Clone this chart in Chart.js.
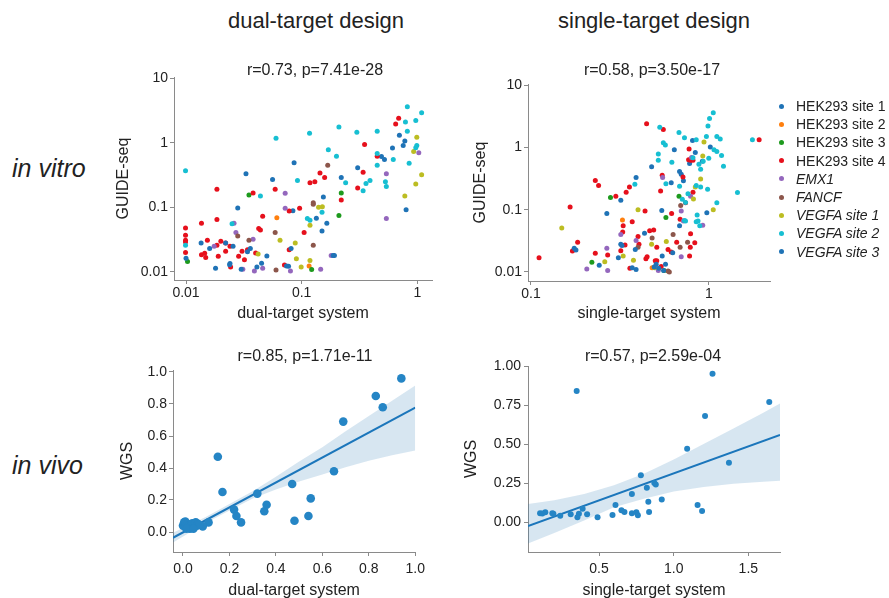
<!DOCTYPE html>
<html>
<head>
<meta charset="utf-8">
<script src="https://cdn.jsdelivr.net/npm/chart.js@4.4.1/dist/chart.umd.min.js"></script>
<style>
  html, body { margin: 0; padding: 0; background: #fff; }
  body { width: 889px; height: 598px; position: relative; overflow: hidden;
         font-family: 'Liberation Sans', Arial, sans-serif; color: #222; }
  canvas { position: absolute; }
  .txt { position: absolute; white-space: nowrap; line-height: 1; transform: translate(-50%, -50%); }
  .row { position: absolute; white-space: nowrap; line-height: 1; font-style: italic; font-size: 25px; transform: translateY(-50%); }
  .head { font-size: 22px; }
  .sub { font-size: 16px; }
  #legend { position: absolute; left: 776px; top: 97px; font-size: 14px; }
  #legend div { height: 18.2px; line-height: 18.2px; position: relative; padding-left: 20px; white-space: nowrap; }
  #legend span.dot { position: absolute; left: 3px; top: 6.6px; width: 5px; height: 5px; border-radius: 50%; }
</style>
</head>
<body>

<canvas id="vitroDual" width="330" height="263" style="left:114px; top:60px;"></canvas>
<canvas id="vitroSingle" width="309" height="263" style="left:471px; top:60px;"></canvas>
<canvas id="vivoDual" width="312" height="255" style="left:118px; top:345px;"></canvas>
<canvas id="vivoSingle" width="328" height="255" style="left:462px; top:345px;"></canvas>

<div class="txt head" style="left:316px; top:21px;">dual-target design</div>
<div class="txt head" style="left:654px; top:21px;">single-target design</div>
<div class="row" style="left:12px; top:168px;">in vitro</div>
<div class="row" style="left:12px; top:465px;">in vivo</div>
<div class="txt sub" style="left:315px; top:70px;">r=0.73, p=7.41e-28</div>
<div class="txt sub" style="left:652px; top:70px;">r=0.58, p=3.50e-17</div>
<div class="txt sub" style="left:305px; top:356px;">r=0.85, p=1.71e-11</div>
<div class="txt sub" style="left:653px; top:356px;">r=0.57, p=2.59e-04</div>
<div id="legend"></div>

<script>
// categories (legend)
const categories = ['HEK293 site 1', 'HEK293 site 2', 'HEK293 site 3', 'HEK293 site 4', 'EMX1', 'FANCF', 'VEGFA site 1', 'VEGFA site 2', 'VEGFA site 3'];
const italicCats = [false, false, false, false, true, true, true, true, true];
const catColors = ['#1f73b6', '#ff7f0e', '#1d9a1d', '#e6101c', '#9467bd', '#8c564b', '#bcbd22', '#17bfd2', '#1f73b6'];

// in vitro, dual-target system vs GUIDE-seq  [x, y]
const dualHek1 = [[0.70,1.3],[0.78,1.06],[0.755,0.91],[0.61,0.83],[0.49,0.61],[0.52,0.55],[0.305,0.41],[0.22,0.29],[0.086,0.49],[0.033,0.33],[0.056,0.27],[0.154,0.145],[0.028,0.098],[0.084,0.089],[0.134,0.068],[0.165,0.057],[0.15,0.043],[0.80,0.092]];
const dualHek2 = [[0.061,0.069],[0.116,0.0124]];
const dualHek3 = [[0.035,0.155],[0.22,0.167],[0.21,0.075],[0.0103,0.0146],[0.122,0.0109]];
const dualHek4 = [[0.69,2.4],[0.65,1.95],[0.35,0.94],[0.45,0.62],[0.34,0.35],[0.144,0.34],[0.158,0.29],[0.13,0.25],[0.118,0.24],[0.0185,0.19],[0.038,0.167],[0.059,0.19],[0.22,0.13],[0.096,0.097],[0.078,0.088],[0.046,0.073],[0.0099,0.048],[0.0136,0.057],[0.0185,0.065],[0.0099,0.037],[0.0099,0.031],[0.0099,0.029],[0.0099,0.020],[0.0153,0.031],[0.020,0.030],[0.022,0.028],[0.024,0.025],[0.0185,0.026],[0.0136,0.0185],[0.0145,0.0195],[0.0148,0.0167],[0.019,0.0175],[0.022,0.021],[0.0285,0.0175],[0.0305,0.021],[0.034,0.022],[0.032,0.0155],[0.040,0.0197],[0.0425,0.047],[0.044,0.0445],[0.105,0.041],[0.078,0.022],[0.071,0.0128],[0.0243,0.012],[0.305,0.20]];
const dualEmx1 = [[1.03,0.70],[0.54,0.33],[0.072,0.165],[0.072,0.097],[0.54,0.067],[0.026,0.057],[0.027,0.041],[0.038,0.032],[0.0175,0.025],[0.18,0.018],[0.039,0.0104],[0.046,0.0114],[0.031,0.011],[0.08,0.0104],[0.146,0.011]];
const dualFancf = [[0.168,0.45],[0.126,0.118],[0.126,0.112],[0.028,0.036],[0.035,0.031],[0.059,0.041],[0.126,0.026],[0.06,0.0107]];
const dualVeg1 = [[0.99,1.22],[0.93,0.73],[1.09,0.32],[0.97,0.23],[0.78,0.15],[0.14,0.10],[0.151,0.102],[0.118,0.053],[0.065,0.031],[0.088,0.028],[0.042,0.019],[0.09,0.016],[0.118,0.015],[0.099,0.012]];
const dualVeg2 = [[0.82,3.6],[1.09,2.9],[0.79,2.1],[0.97,2.2],[0.82,1.5],[0.21,1.75],[0.30,1.45],[0.45,1.5],[0.117,1.4],[0.06,1.17],[0.17,0.78],[0.20,0.62],[0.99,0.91],[0.97,0.84],[0.45,0.68],[0.62,0.55],[0.85,0.48],[0.45,0.45],[0.0099,0.37],[0.092,0.26],[0.39,0.26],[0.36,0.235],[0.24,0.24],[0.53,0.25],[0.54,0.21],[0.34,0.18],[0.044,0.15],[0.15,0.084],[0.112,0.067],[0.118,0.063],[0.025,0.056],[0.0099,0.026]];
const dualVeg3 = [[0.0135,0.028],[0.022,0.028],[0.016,0.023],[0.0255,0.025],[0.034,0.0206],[0.036,0.023],[0.050,0.0177],[0.045,0.0136],[0.041,0.0119],[0.024,0.0135],[0.0238,0.013],[0.018,0.0114],[0.030,0.011],[0.074,0.0124],[0.081,0.023],[0.077,0.0123],[0.187,0.018],[0.192,0.018],[0.01,0.0163]];

// in vitro, single-target system vs GUIDE-seq
const singleHek1 = [[0.81,1.29],[1.02,1.01],[0.84,0.83],[0.64,0.92],[0.92,0.60],[0.78,0.55],[0.477,0.49],[0.685,0.41],[0.70,0.37],[0.72,0.29],[0.615,0.27],[0.39,0.33],[0.32,0.142],[0.267,0.087],[0.544,0.097],[0.975,0.089],[0.435,0.042]];
const singleHek2 = [[0.327,0.068],[0.48,0.0117]];
const singleHek3 = [[0.28,0.157],[0.68,0.164],[0.574,0.075],[0.22,0.0143],[0.56,0.0106]];
const singleHek4 = [[0.447,2.4],[0.555,1.94],[1.92,1.33],[0.775,0.94],[0.77,0.635],[0.79,0.62],[0.815,0.62],[0.23,0.293],[0.24,0.244],[0.358,0.232],[0.343,0.19],[0.30,0.164],[0.547,0.356],[0.716,0.335],[0.536,0.2],[0.815,0.19],[0.74,0.129],[0.438,0.095],[0.618,0.087],[0.166,0.11],[0.371,0.064],[0.33,0.055],[0.328,0.044],[0.49,0.047],[0.465,0.046],[0.40,0.037],[0.405,0.028],[0.338,0.027],[0.32,0.022],[0.27,0.0187],[0.23,0.02],[0.183,0.03],[0.171,0.0217],[0.111,0.017],[0.79,0.041],[0.834,0.0295],[0.787,0.025],[0.66,0.03],[0.59,0.023],[0.51,0.025],[0.69,0.07],[0.615,0.021],[0.50,0.0152],[0.51,0.0152],[0.443,0.0163],[0.45,0.0176],[0.36,0.0115],[0.78,0.018],[0.54,0.0122]];
const singleEmx1 = [[0.80,0.69],[0.55,0.327],[0.79,0.164],[0.70,0.095],[0.72,0.066],[0.925,0.0565],[0.32,0.040],[0.39,0.032],[0.267,0.024],[0.70,0.0176],[0.27,0.0106],[0.206,0.0112],[0.52,0.0106]];
const singleFancf = [[0.695,0.117],[0.48,0.035],[0.63,0.040],[0.76,0.03],[0.69,0.025],[0.40,0.025],[0.60,0.0100],[0.59,0.0104]];
const singleVeg1 = [[0.94,1.22],[0.925,0.73],[0.90,0.31],[0.84,0.232],[0.82,0.149],[0.40,0.10],[1.06,0.10],[0.149,0.051],[0.577,0.031],[0.477,0.028],[0.377,0.0154],[0.26,0.0146],[0.33,0.018],[0.496,0.0117]];
const singleVeg2 = [[1.06,3.6],[1.01,2.9],[0.99,2.2],[0.53,2.1],[0.68,1.74],[0.73,1.43],[0.97,1.5],[1.11,1.5],[1.16,1.36],[0.85,1.33],[1.76,1.33],[0.555,1.19],[0.57,1.09],[1.07,0.92],[1.11,0.86],[1.18,0.74],[1.0,0.67],[0.52,0.78],[0.52,0.62],[0.815,0.68],[0.62,0.575],[0.88,0.535],[0.93,0.60],[1.21,0.50],[0.90,0.445],[0.384,0.256],[0.574,0.26],[0.685,0.238],[0.85,0.244],[0.90,0.232],[0.985,0.213],[1.45,0.188],[0.764,0.181],[0.71,0.147],[0.74,0.13],[1.11,0.129],[0.86,0.082],[0.73,0.067],[0.74,0.066],[0.85,0.064],[0.89,0.055],[0.87,0.066]];
const singleVeg3 = [[0.685,0.055],[0.32,0.028],[0.325,0.0265],[0.386,0.023],[0.547,0.018],[0.506,0.0133],[0.493,0.012],[0.31,0.017],[0.242,0.0128],[0.175,0.024],[0.179,0.0225],[0.371,0.0117],[0.39,0.011],[0.571,0.0133],[0.627,0.0204],[0.523,0.0115],[0.557,0.0106]];

const vitroDualSets = [dualHek1, dualHek2, dualHek3, dualHek4, dualEmx1, dualFancf, dualVeg1, dualVeg2, dualVeg3];
const vitroSingleSets = [singleHek1, singleHek2, singleHek3, singleHek4, singleEmx1, singleFancf, singleVeg1, singleVeg2, singleVeg3];

// in vivo, WGS
const vivoDual = [[0.94,0.96],[0.83,0.85],[0.86,0.78],[0.69,0.69],[0.15,0.47],[0.65,0.38],[0.17,0.25],[0.47,0.30],[0.32,0.24],[0.55,0.21],[0.22,0.14],[0.36,0.17],[0.35,0.13],[0.23,0.10],[0.54,0.10],[0.25,0.06],[0.48,0.07],[0.11,0.06],[0.085,0.035],[0.0,0.04],[0.005,0.06],[0.01,0.065],[0.012,0.03],[0.02,0.05],[0.025,0.04],[0.03,0.02],[0.035,0.045],[0.04,0.055],[0.045,0.03],[0.05,0.05],[0.055,0.06],[0.06,0.04],[0.065,0.05],[0.07,0.045],[0.015,0.02],[0.045,0.02]];
const vivoSingle = [[1.26,0.95],[0.35,0.84],[1.64,0.77],[1.21,0.68],[1.09,0.47],[1.37,0.38],[0.78,0.30],[0.87,0.25],[0.88,0.24],[0.82,0.22],[0.72,0.18],[0.83,0.13],[0.92,0.145],[0.61,0.11],[1.16,0.11],[1.19,0.07],[0.65,0.075],[0.67,0.064],[0.72,0.056],[0.75,0.062],[0.76,0.043],[0.835,0.064],[0.59,0.045],[0.49,0.03],[0.42,0.05],[0.39,0.085],[0.365,0.053],[0.355,0.03],[0.31,0.05],[0.24,0.04],[0.194,0.053],[0.187,0.057],[0.14,0.062],[0.105,0.057],[0.12,0.055]];

// regression line and confidence band
const fitXDual = [-0.043, 1.0];
const fitYDual = [-0.036, 0.778];
const bandXDual = [-0.043, 0.1, 0.2, 0.3, 0.4, 0.5, 0.6, 0.7, 0.8, 0.9, 1.0];
const bandHiDual = [-0.005, 0.095, 0.175, 0.255, 0.345, 0.44, 0.53, 0.63, 0.725, 0.82, 0.915];
const bandLoDual = [-0.066, 0.058, 0.135, 0.21, 0.265, 0.315, 0.36, 0.405, 0.445, 0.48, 0.51];
const fitXSingle = [0.024, 1.712];
const fitYSingle = [-0.025, 0.558];
const bandXSingle = [0.024, 0.2, 0.4, 0.6, 0.8, 1.0, 1.2, 1.4, 1.6, 1.712];
const bandHiSingle = [0.115, 0.14, 0.18, 0.235, 0.31, 0.40, 0.50, 0.60, 0.70, 0.76];
const bandLoSingle = [-0.137, -0.07, 0.01, 0.095, 0.15, 0.195, 0.225, 0.245, 0.258, 0.265];

// tick values
const logTicksY = [0.01, 0.1, 1, 10];
const logTicksDualX = [0.01, 0.1, 1];
const logTicksSingleX = [0.1, 1];
const vivoDualXTicks = [0, 0.2, 0.4, 0.6, 0.8, 1.0];
const vivoDualYTicks = [0, 0.2, 0.4, 0.6, 0.8, 1.0];
const vivoSingleXTicks = [0.5, 1.0, 1.5];
const vivoSingleYTicks = [0, 0.25, 0.5, 0.75, 1.0];

Chart.defaults.font.family = "'Liberation Sans', Arial, sans-serif";
Chart.defaults.color = '#222';
const axisGrey = '#8a8a8a';
const bandColor = 'rgba(31,119,180,0.18)';
const lineBlue = '#1b76bb';
const vivoBlue = '#2585c5';

function toXY(pairs) {
  return pairs.map(p => ({ x: p[0], y: p[1] }));
}
function zip(xs, ys) {
  return xs.map((x, i) => ({ x: x, y: ys[i] }));
}

function axis(dir, type, min, max, tickVals, fmt, title, size, pad) {
  return {
    type: type, min: min, max: max, bounds: 'data',
    afterBuildTicks: s => { s.ticks = tickVals.map(v => ({ value: v })); },
    afterFit: s => { if (dir === 'x') s.height = size; else s.width = size; },
    ticks: { callback: v => fmt(v), font: { size: 14 }, color: '#222', padding: pad, autoSkip: false, maxRotation: 0 },
    grid: { drawOnChartArea: false, drawTicks: true, tickLength: 4, color: axisGrey },
    border: { display: true, color: axisGrey },
    title: { display: true, text: title, font: { size: 16 }, color: '#222', padding: 0 }
  };
}

function makePanel(id, datasets, pad, xAxis, yAxis) {
  new Chart(document.getElementById(id), {
    type: 'scatter',
    data: { datasets: datasets },
    options: {
      responsive: false,
      animation: false,
      events: [],
      layout: { padding: pad },
      plugins: { legend: { display: false }, tooltip: { enabled: false } },
      scales: { x: xAxis, y: yAxis }
    }
  });
}

function vitroDatasets(sets) {
  return sets.map((pairs, i) => ({
    label: categories[i],
    data: toXY(pairs),
    pointRadius: 2.5,
    pointBackgroundColor: catColors[i],
    pointBorderWidth: 0,
    order: categories.length - i
  }));
}

function vivoDatasets(points, fitX, fitY, bandX, bandHi, bandLo, radius) {
  return [
    { data: toXY(points), pointRadius: radius, pointBackgroundColor: vivoBlue, pointBorderWidth: 0, order: 0 },
    { type: 'line', data: zip(fitX, fitY), borderColor: lineBlue, borderWidth: 2, pointRadius: 0, fill: false, order: 1 },
    { type: 'line', data: zip(bandX, bandHi), borderWidth: 0, pointRadius: 0, fill: '+1', backgroundColor: bandColor, order: 2 },
    { type: 'line', data: zip(bandX, bandLo), borderWidth: 0, pointRadius: 0, fill: false, order: 3 }
  ];
}

const logFmt = v => String(v);

makePanel('vitroDual', vitroDatasets(vitroDualSets), { top: 17, right: 12, left: 0, bottom: 0 },
  axis('x', 'logarithmic', 0.00787, 1.34, logTicksDualX, logFmt, 'dual-target system', 43, 1),
  axis('y', 'logarithmic', 0.00752, 10.4, logTicksY, logFmt, 'GUIDE-seq', 60, 2));

makePanel('vitroSingle', vitroDatasets(vitroSingleSets), { top: 24, right: 10, left: 0, bottom: 0 },
  axis('x', 'logarithmic', 0.0962, 2.21, logTicksSingleX, logFmt, 'single-target system', 42, 1),
  axis('y', 'logarithmic', 0.00717, 10.4, logTicksY, logFmt, 'GUIDE-seq', 57, 2));

makePanel('vivoDual', vivoDatasets(vivoDual, fitXDual, fitYDual, bandXDual, bandHiDual, bandLoDual, 4.3), { top: 25, right: 12, left: 0, bottom: 0 },
  axis('x', 'linear', -0.043, 1.0, vivoDualXTicks, v => v.toFixed(1), 'dual-target system', 48, 5),
  axis('y', 'linear', -0.125, 1.0125, vivoDualYTicks, v => v.toFixed(1), 'WGS', 55, 2));

makePanel('vivoSingle', vivoDatasets(vivoSingle, fitXSingle, fitYSingle, bandXSingle, bandHiSingle, bandLoSingle, 3), { top: 21, right: 10, left: 0, bottom: 0 },
  axis('x', 'linear', 0.024, 1.712, vivoSingleXTicks, v => v.toFixed(1), 'single-target system', 48, 5),
  axis('y', 'linear', -0.192, 1.0, vivoSingleYTicks, v => v.toFixed(2), 'WGS', 66, 3));

// legend
const legend = document.getElementById('legend');
categories.forEach((name, i) => {
  const row = document.createElement('div');
  if (italicCats[i]) row.style.fontStyle = 'italic';
  const dot = document.createElement('span');
  dot.className = 'dot';
  dot.style.background = catColors[i];
  row.appendChild(dot);
  row.appendChild(document.createTextNode(name));
  legend.appendChild(row);
});
</script>
</body>
</html>
